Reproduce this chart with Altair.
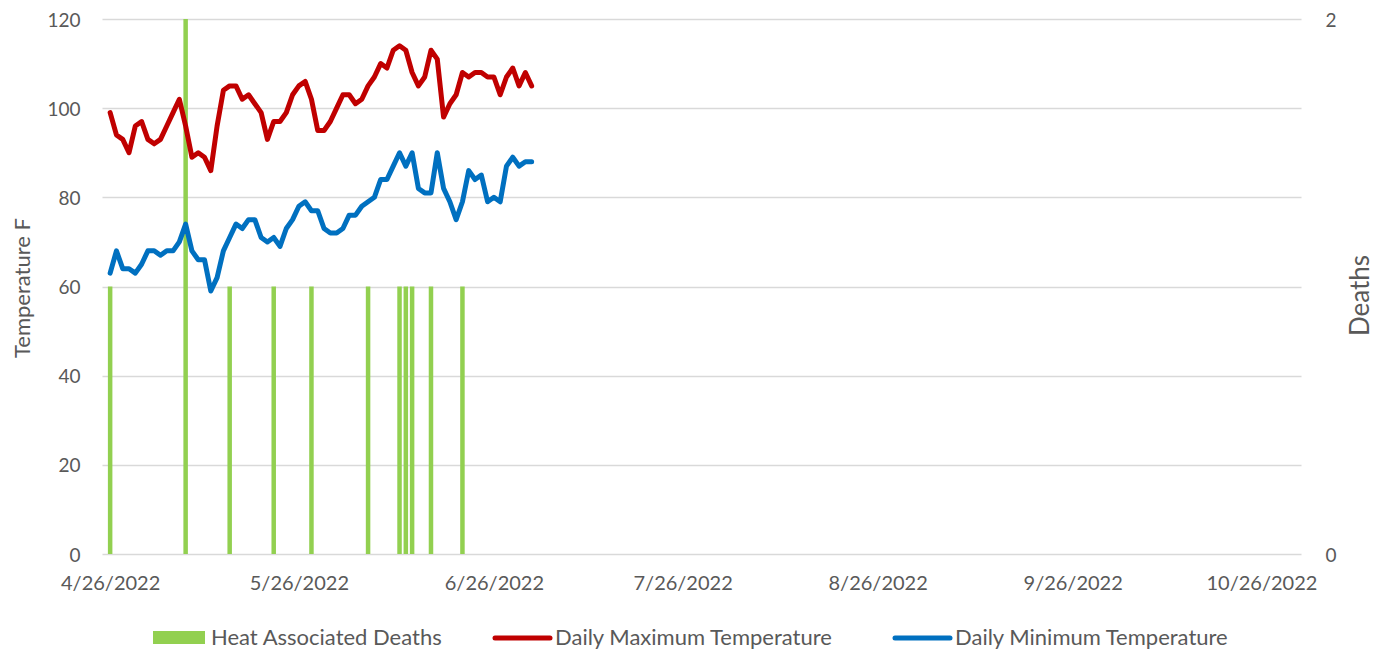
import altair as alt
import pandas as pd

# ---- data ----
start_date = "2022-04-26"
n_days = 68
max_temp = [99, 94, 93, 90, 96, 97, 93, 92, 93, 96, 99, 102, 96, 89, 90, 89, 86, 96, 104, 105,
            105, 102, 103, 101, 99, 93, 97, 97, 99, 103, 105, 106, 102, 95, 95, 97, 100, 103, 103, 101,
            102, 105, 107, 110, 109, 113, 114, 113, 108, 105, 107, 113, 111, 98, 101, 103, 108, 107, 108, 108,
            107, 107, 103, 107, 109, 105, 108, 105]
min_temp = [63, 68, 64, 64, 63, 65, 68, 68, 67, 68, 68, 70, 74, 68, 66, 66, 59, 62, 68, 71,
            74, 73, 75, 75, 71, 70, 71, 69, 73, 75, 78, 79, 77, 77, 73, 72, 72, 73, 76, 76,
            78, 79, 80, 84, 84, 87, 90, 87, 90, 82, 81, 81, 90, 82, 79, 75, 79, 86, 84, 85,
            79, 80, 79, 87, 89, 87, 88, 88]
death_dates = ["2022-04-26", "2022-05-08", "2022-05-15", "2022-05-22", "2022-05-28", "2022-06-06",
               "2022-06-11", "2022-06-12", "2022-06-13", "2022-06-16", "2022-06-21"]
death_counts = [1, 2, 1, 1, 1, 1, 1, 1, 1, 1, 1]
series_names = ["Heat Associated Deaths", "Daily Maximum Temperature", "Daily Minimum Temperature"]
series_colors = ["#92D050", "#C00000", "#0070C0"]
tick_months = [4, 5, 6, 7, 8, 9, 10]

dates = [d.strftime("%Y-%m-%d") for d in pd.date_range(start_date, periods=n_days, freq="D")]
temp_df = pd.DataFrame({
    "date": dates * 2,
    "series": [series_names[1]] * n_days + [series_names[2]] * n_days,
    "value": max_temp + min_temp,
})
death_df = pd.DataFrame({"date": death_dates, "deaths": death_counts})

FONT = "Lato"
FS = 20
YFS = 19
LEG_FS = 22
TXT = "#595959"
W, H = 1199, 535

x_dom = [alt.DateTime(year=2022, month=4, date=25, hours=12, utc=True),
         alt.DateTime(year=2022, month=10, date=31, hours=12, utc=True)]
x_ticks = [alt.DateTime(year=2022, month=m, date=26, utc=True) for m in tick_months]

x_enc = alt.X("date:T", scale=alt.Scale(type="utc", domain=x_dom),
              axis=alt.Axis(values=x_ticks, labelExpr="utcFormat(datum.value, '%-m/%-d/%Y')",
                            title=None, grid=False, domain=False, ticks=False,
                            labelPadding=19, labelFont=FONT, labelFontSize=FS, labelColor=TXT,
                            labelOverlap=False))

bars = alt.Chart(death_df).mark_bar(width=4.5, color=series_colors[0]).encode(
    x=x_enc,
    y=alt.Y("deaths:Q", scale=alt.Scale(domain=[0, 2]),
            axis=alt.Axis(orient="right", values=[0, 1, 2], format="d", title="Deaths", grid=False,
                          domain=False, ticks=False, labelPadding=24, labelOffset=1,
                          labelFont=FONT, labelFontSize=YFS, labelColor=TXT,
                          titleFont=FONT, titleFontSize=26, titleFontWeight="normal", titleColor=TXT,
                          titleAngle=-90, titleX=59, titleY=276, titleAlign="center",
                          titleBaseline="middle")),
)

lines = alt.Chart(temp_df).mark_line(strokeWidth=5, strokeJoin="round", strokeCap="round").encode(
    x=x_enc,
    y=alt.Y("value:Q", scale=alt.Scale(domain=[0, 120]),
            axis=alt.Axis(orient="left", values=[0, 20, 40, 60, 80, 100, 120], title="Temperature F",
                          grid=True, gridColor="#D9D9D9", gridWidth=1.3, domain=False, ticks=False,
                          labelPadding=22, labelOffset=1, labelFont=FONT, labelFontSize=YFS,
                          labelColor=TXT,
                          titleFont=FONT, titleFontSize=22, titleFontWeight="normal", titleColor=TXT,
                          titleAngle=-90, titleX=-79.5, titleY=268.5, titleAlign="center",
                          titleBaseline="middle")),
    color=alt.Color("series:N", scale=alt.Scale(domain=series_names[1:], range=series_colors[1:]),
                    legend=None),
    detail="series:N",
)

# ---- manual legend ----
legend_layers = []
leg_y = 619
swatch = alt.Chart(pd.DataFrame({"label": [series_names[0]]})).mark_rect(color=series_colors[0]).encode(
    x=alt.value(51), x2=alt.value(103), y=alt.value(leg_y - 7), y2=alt.value(leg_y + 6))
legend_layers.append(swatch)
for name, col, x0 in [(series_names[1], series_colors[1], 393), (series_names[2], series_colors[2], 793)]:
    legend_layers.append(
        alt.Chart(pd.DataFrame({"label": [name]})).mark_rule(color=col, strokeWidth=5, strokeCap="round").encode(
            x=alt.value(x0), x2=alt.value(x0 + 55), y=alt.value(leg_y)))
for name, tx in [(series_names[0], 109), (series_names[1], 453), (series_names[2], 853)]:
    legend_layers.append(
        alt.Chart(pd.DataFrame({"label": [name]})).mark_text(
            align="left", baseline="middle", font=FONT, fontSize=LEG_FS, color=TXT).encode(
            x=alt.value(tx), y=alt.value(leg_y), text="label:N"))

chart = alt.layer(bars, lines, *legend_layers).resolve_scale(y="independent").properties(
    width=W, height=H,
    padding={"left": 94, "top": 11, "right": 75, "bottom": 96},
    autosize=alt.AutoSizeParams(type="none"),
).configure_view(stroke=None)

chart.save("out.html", embed_options={"renderer": "svg", "actions": False})
